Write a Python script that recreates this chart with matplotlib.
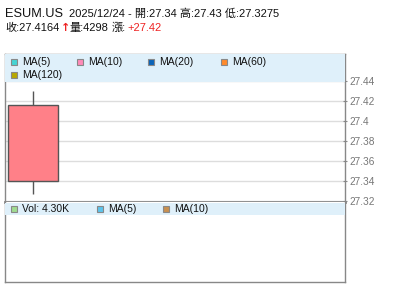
import matplotlib
matplotlib.use("Agg")
import matplotlib.pyplot as plt
from matplotlib.patches import Rectangle

plt.rcParams['font.family'] = ['Liberation Sans', 'Noto Sans CJK TC', 'DejaVu Sans']

symbol = "ESUM.US"
date = "2025/12/24"
opens = [27.34]
highs = [27.43]
lows = [27.3275]
closes = [27.4164]
volumes = [4298]
change = 27.42
yticks = [27.32, 27.34, 27.36, 27.38, 27.40, 27.42, 27.44]
ytick_labels = ["27.32", "27.34", "27.36", "27.38", "27.4", "27.42", "27.44"]
ma_names = ["MA(5)", "MA(10)", "MA(20)", "MA(60)", "MA(120)"]
ma_colors = ["#44d4d4", "#ff8ab8", "#0a64b8", "#ff8a2a", "#b8a800"]
vol_names = ["MA(5)", "MA(10)"]
vol_colors = ["#5cc4ec", "#c89050"]

W, H = 400, 301
fig = plt.figure(figsize=(W / 100, H / 100), dpi=100)

def fx(px):
    return px / W

def fy(py):
    return 1 - py / H

L, R = 5, 345
main_top, main_bot = 54, 202
vol_bot = 282

ax = fig.add_axes([fx(L), fy(main_bot), fx(R - L), (main_bot - main_top) / H])
axv = fig.add_axes([fx(L), fy(vol_bot), fx(R - L), (vol_bot - main_bot) / H])

# price scale: 1 px per 0.001
ymin = 27.32 - 0.001
ymax = ymin + (main_bot - main_top) * 0.001
ax.set_ylim(ymin, ymax)
unit = 62.5
x0 = -28 / unit
ax.set_xlim(x0, x0 + (R - L) / unit)

for i in range(len(opens)):
    o, h, l, c = opens[i], highs[i], lows[i], closes[i]
    ax.vlines(i, l, h, color="#555555", lw=1, zorder=3)
    ax.add_patch(Rectangle((i - 0.4, min(o, c)), 0.8, abs(c - o),
                           facecolor="#ff8088" if c >= o else "#44aa44",
                           edgecolor="#555555", lw=1, zorder=4))

for t in yticks:
    ax.axhline(t, color="#dddddd", lw=1, zorder=1)

ax.yaxis.tick_right()
ax.set_yticks(yticks)
ax.set_yticklabels(ytick_labels)
ax.tick_params(axis='y', direction='inout', length=3, width=0.8, color="#888888",
               labelcolor="#777777", labelsize=7.3, pad=2)
ax.set_xticks([])
for s in ax.spines.values():
    s.set_color("#888888")
    s.set_linewidth(1)
ax.spines['bottom'].set_linewidth(2)

# legend band (main)
ax.add_patch(Rectangle((0, 1 - 28 / (main_bot - main_top)), 1, 28 / (main_bot - main_top),
                       transform=ax.transAxes, facecolor="#dff0fa", edgecolor="none", zorder=5))
pos = [(11, 62), (77, 62), (148, 62), (221, 62), (11, 75)]
for (px, py), name, col in zip(pos, ma_names, ma_colors):
    fig.patches.append(Rectangle((fx(px), fy(py + 3)), 6 / W, 6 / H, transform=fig.transFigure,
                                 facecolor=col, edgecolor="#888888", lw=0.8, zorder=10))
    fig.text(fx(px + 11), fy(py), name, fontsize=7.5, va='center', ha='left', color="#111111", zorder=10)

# volume panel
axv.set_xlim(ax.get_xlim())
axv.set_ylim(0, max(volumes) * 10)
axv.set_xticks([])
axv.set_yticks([])
for s in axv.spines.values():
    s.set_color("#888888")
    s.set_linewidth(1)
axv.spines['top'].set_visible(False)
axv.add_patch(Rectangle((0, 1 - 13 / (vol_bot - main_bot)), 1, 12 / (vol_bot - main_bot),
                        transform=axv.transAxes, facecolor="#dff0fa", edgecolor="none", zorder=5))
vol_label = "Vol: %.2fK" % (volumes[-1] / 1000)
vpos = [(11, 209), (97, 209), (163, 209)]
for (px, py), name, col in zip(vpos, [vol_label] + vol_names, ["#a0dc90"] + vol_colors):
    fig.patches.append(Rectangle((fx(px), fy(py + 3)), 6 / W, 6 / H, transform=fig.transFigure,
                                 facecolor=col, edgecolor="#888888", lw=0.8, zorder=10))
    fig.text(fx(px + 11), fy(py), name, fontsize=7.5, va='center', ha='left', color="#111111", zorder=10)

# header
fig.text(fx(5), fy(17), symbol, fontsize=9.2, va='baseline', ha='left', color="#111111")
fig.text(fx(69), fy(17), "%s - 開:%s 高:%s 低:%s" % (date, opens[0], highs[0], lows[0]),
         fontsize=8, va='baseline', ha='left', color="#111111")
fig.text(fx(5), fy(31), "收:%s" % closes[0], fontsize=8, va='baseline', ha='left', color="#111111")
fig.text(fx(60.5), fy(31), "↑", fontsize=8, va='baseline', ha='left', color="#ee2222",
         family=['DejaVu Sans'], fontweight='bold')
fig.text(fx(69), fy(31), "量:%d" % volumes[0], fontsize=8, va='baseline', ha='left', color="#111111")
fig.text(fx(112), fy(31), "漲:", fontsize=8, va='baseline', ha='left', color="#111111")
fig.text(fx(127), fy(31), "+%.2f" % change, fontsize=8, va='baseline', ha='left', color="#ee2222")

fig.savefig("out.png", dpi=100)
